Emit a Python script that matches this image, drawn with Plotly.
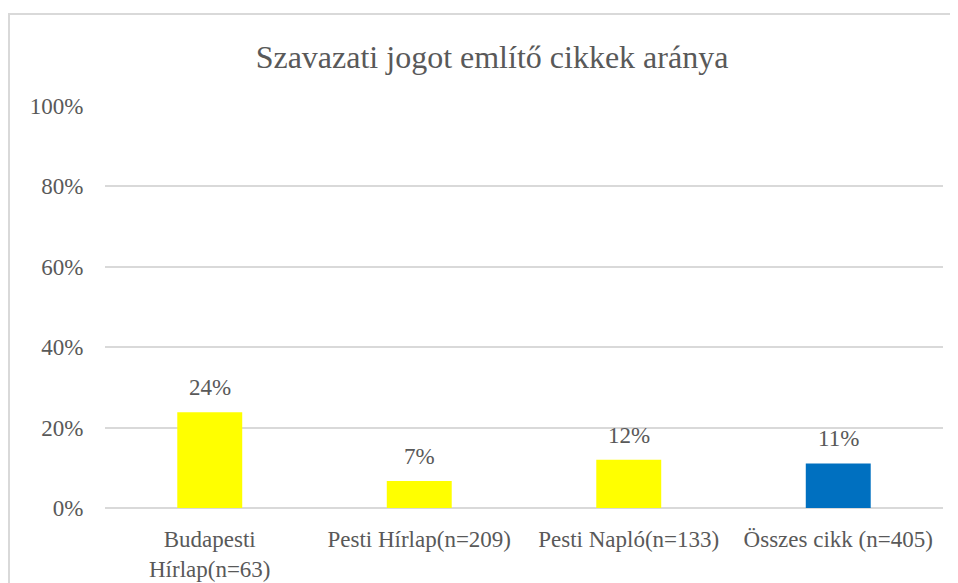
import plotly.graph_objects as go

categories = ["Budapesti<br>Hírlap(n=63)", "Pesti Hírlap(n=209)", "Pesti Napló(n=133)", "Összes cikk (n=405)"]
values = [0.238, 0.067, 0.12, 0.111]
colors = ["#FFFF00", "#FFFF00", "#FFFF00", "#0070C0"]
y_ticks = [0, 0.2, 0.4, 0.6, 0.8, 1.0]
y_tick_labels = ["0%", "20%", "40%", "60%", "80%", "100%"]
title = "Szavazati jogot említő cikkek aránya"

font_family = "Liberation Serif"
grey = "#595959"

fig = go.Figure(go.Bar(
    x=categories, y=values,
    marker=dict(color=colors, line=dict(width=0)),
    cliponaxis=False,
    hoverinfo="x+y",
))

for c, v in zip(categories, values):
    fig.add_annotation(x=c, y=v, xref="x", yref="y", text=f"{v:.0%}",
                       showarrow=False, yanchor="bottom", yshift=10,
                       font=dict(family=font_family, size=23, color=grey))

# page has 8px body margin, so figure origin is at (8, 8) in the screenshot
W, H = 950, 575
ml, mr, mt, mb = 97, 15, 98, 75
pw, ph = W - ml - mr, H - mt - mb

fig.update_layout(
    width=W, height=H,
    margin=dict(l=ml, r=mr, t=mt, b=mb, autoexpand=False),
    paper_bgcolor="white", plot_bgcolor="white",
    bargap=0.69,
    showlegend=False,
    title=dict(text=title, x=484 / W, xref="container", xanchor="center",
               y=1 - 49 / H, yref="container", yanchor="middle",
               font=dict(family=font_family, size=32, color=grey)),
    font=dict(family=font_family, color=grey),
    xaxis=dict(showgrid=False, showline=False, automargin=False,
               ticks="outside", ticklen=10, tickcolor="rgba(0,0,0,0)",
               tickfont=dict(family=font_family, size=23, color=grey)),
    yaxis=dict(range=[0, 1.0], tickvals=y_ticks, ticktext=y_tick_labels,
               automargin=False,
               showgrid=True, gridcolor="#D9D9D9", gridwidth=2,
               zeroline=True, zerolinecolor="#D9D9D9", zerolinewidth=2,
               showline=False, ticks="outside", ticklen=16, tickcolor="rgba(0,0,0,0)",
               tickfont=dict(family=font_family, size=23, color=grey)),
    shapes=[dict(type="rect", xref="paper", yref="paper",
                 x0=(1 - ml) / pw, x1=(W + 50 - ml) / pw,
                 y0=(H - mb - 600) / ph, y1=(H - mb - 6) / ph,
                 line=dict(color="#D9D9D9", width=2), fillcolor="rgba(0,0,0,0)",
                 layer="below")],
)

fig.write_html("out.html")
